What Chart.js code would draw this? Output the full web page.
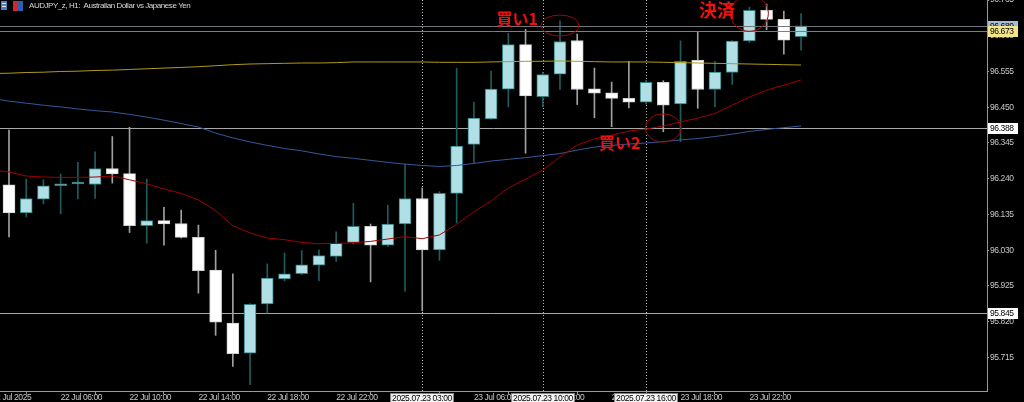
<!DOCTYPE html>
<html>
<head>
<meta charset="utf-8">
<script src="https://cdn.jsdelivr.net/npm/chart.js@4.4.1/dist/chart.umd.min.js"></script>
<style>
  html, body { margin: 0; padding: 0; background: #000; }
  canvas { display: block; }
</style>
</head>
<body>
<canvas id="chart" width="1024" height="402"></canvas>
<script>
// hourly bars, AUDJPY_z H1 (first slot is off-screen, only the MAs reach it)
const times = [
  "22 Jul 02:00", "22 Jul 03:00", "22 Jul 04:00", "22 Jul 05:00", "22 Jul 06:00", "22 Jul 07:00",
  "22 Jul 08:00", "22 Jul 09:00", "22 Jul 10:00", "22 Jul 11:00", "22 Jul 12:00", "22 Jul 13:00",
  "22 Jul 14:00", "22 Jul 15:00", "22 Jul 16:00", "22 Jul 17:00", "22 Jul 18:00", "22 Jul 19:00",
  "22 Jul 20:00", "22 Jul 21:00", "22 Jul 22:00", "22 Jul 23:00", "23 Jul 00:00", "23 Jul 01:00",
  "23 Jul 02:00", "23 Jul 03:00", "23 Jul 04:00", "23 Jul 05:00", "23 Jul 06:00", "23 Jul 07:00",
  "23 Jul 08:00", "23 Jul 09:00", "23 Jul 10:00", "23 Jul 11:00", "23 Jul 12:00", "23 Jul 13:00",
  "23 Jul 14:00", "23 Jul 15:00", "23 Jul 16:00", "23 Jul 17:00", "23 Jul 18:00", "23 Jul 19:00",
  "23 Jul 20:00", "23 Jul 21:00", "23 Jul 22:00", "23 Jul 23:00", "24 Jul 00:00", "24 Jul 01:00"
];

const opens = [null,
  96.222, 96.140, 96.180, 96.220, 96.225, 96.223, 96.270, 96.255, 96.102, 96.117,
  96.108, 96.068, 95.972, 95.816, 95.728, 95.872, 95.946, 95.961, 95.986, 96.012,
  96.053, 96.100, 96.045, 96.107, 96.182, 96.031, 96.197, 96.341, 96.416, 96.503,
  96.634, 96.481, 96.547, 96.646, 96.504, 96.492, 96.476, 96.465, 96.523, 96.460,
  96.588, 96.502, 96.552, 96.645, 96.735, 96.708, 96.657];
const highs = [null,
  96.383, 96.239, 96.237, 96.254, 96.288, 96.319, 96.364, 96.391, 96.239, 96.156,
  96.148, 96.104, 96.030, 95.961, 95.873, 95.990, 96.022, 96.029, 96.031, 96.084,
  96.168, 96.107, 96.162, 96.283, 96.213, 96.202, 96.564, 96.465, 96.556, 96.667,
  96.679, 96.553, 96.704, 96.665, 96.565, 96.524, 96.585, 96.530, 96.528, 96.645,
  96.671, 96.585, 96.646, 96.744, 96.753, 96.732, 96.725];
const lows = [null,
  96.069, 96.128, 96.166, 96.137, 96.181, 96.182, 96.227, 96.082, 96.051, 96.045,
  96.066, 95.904, 95.780, 95.689, 95.635, 95.846, 95.940, 95.958, 95.941, 95.997,
  96.048, 95.937, 96.041, 95.909, 95.852, 96.000, 96.110, 96.287, 96.414, 96.451,
  96.315, 96.451, 96.502, 96.458, 96.419, 96.393, 96.448, 96.459, 96.378, 96.349,
  96.447, 96.451, 96.517, 96.640, 96.678, 96.606, 96.618];
const closes = [null,
  96.140, 96.182, 96.219, 96.225, 96.230, 96.270, 96.254, 96.102, 96.117, 96.107,
  96.068, 95.970, 95.819, 95.726, 95.871, 95.948, 95.961, 95.987, 96.014, 96.051,
  96.100, 96.045, 96.107, 96.182, 96.031, 96.197, 96.336, 96.418, 96.503, 96.634,
  96.483, 96.546, 96.643, 96.502, 96.491, 96.476, 96.465, 96.523, 96.456, 96.585,
  96.502, 96.553, 96.644, 96.735, 96.708, 96.647, 96.689];

// moving averages (red / blue / gold)
const maFast = [96.266,
  96.260, 96.248, 96.245, 96.244, 96.244, 96.245, 96.248, 96.237, 96.225, 96.210,
  96.197, 96.178, 96.146, 96.102, 96.081, 96.066, 96.061, 96.053, 96.049, 96.050,
  96.052, 96.056, 96.063, 96.070, 96.064, 96.075, 96.106, 96.143, 96.175, 96.213,
  96.239, 96.266, 96.304, 96.339, 96.357, 96.368, 96.380, 96.386, 96.395, 96.407,
  96.418, 96.432, 96.456, 96.480, 96.500, 96.515, 96.530];
const maMid = [96.476,
  96.468, 96.462, 96.456, 96.451, 96.445, 96.440, 96.436, 96.429, 96.421, 96.412,
  96.402, 96.392, 96.374, 96.360, 96.348, 96.338, 96.329, 96.322, 96.313, 96.305,
  96.300, 96.294, 96.288, 96.283, 96.279, 96.276, 96.279, 96.285, 96.292, 96.297,
  96.302, 96.308, 96.314, 96.324, 96.333, 96.338, 96.342, 96.345, 96.349, 96.354,
  96.358, 96.364, 96.371, 96.379, 96.385, 96.390, 96.395];
const maSlow = [96.549,
  96.550, 96.552, 96.553, 96.555, 96.556, 96.558, 96.559, 96.561, 96.563, 96.565,
  96.567, 96.569, 96.572, 96.575, 96.577, 96.578, 96.579, 96.580, 96.580, 96.581,
  96.583, 96.583, 96.583, 96.583, 96.583, 96.582, 96.582, 96.582, 96.583, 96.584,
  96.585, 96.585, 96.586, 96.585, 96.584, 96.583, 96.583, 96.583, 96.582, 96.581,
  96.580, 96.579, 96.578, 96.577, 96.576, 96.575, 96.574];

const priceTicks = [95.715, 95.820, 95.925, 96.030, 96.135, 96.240, 96.345, 96.450, 96.555, 96.660, 96.765];
const timeTickAt = ["22 Jul 02:00", "22 Jul 06:00", "22 Jul 10:00", "22 Jul 14:00", "22 Jul 18:00", "22 Jul 22:00",
  "23 Jul 02:00", "23 Jul 06:00", "23 Jul 10:00", "23 Jul 14:00", "23 Jul 18:00", "23 Jul 22:00"];
const timeTickText = ["22 Jul 2025", "22 Jul 06:00", "22 Jul 10:00", "22 Jul 14:00", "22 Jul 18:00", "22 Jul 22:00",
  "23 Jul 02:00", "23 Jul 06:00", "23 Jul 10:00", "23 Jul 14:00", "23 Jul 18:00", "23 Jul 22:00"];

// user objects on the chart
const hLines = [96.388, 95.845];
const markLine = 96.673;
const vLineAt = ["23 Jul 03:00", "23 Jul 10:00", "23 Jul 16:00"];
const vLineText = ["2025.07.23 03:00", "2025.07.23 10:00", "2025.07.23 16:00"];
const noteText = ["買い1", "買い2", "決済"];
const noteAt = ["23 Jul 08:00", "23 Jul 14:00", "23 Jul 20:00"];
const notePrice = [96.710, 96.344, 96.735];
const circleAt = ["23 Jul 11:00", "23 Jul 17:00", "23 Jul 22:00"];
const circlePrice = [96.690, 96.389, 96.726];

const FONT = "'Liberation Sans', Arial, sans-serif";
const BULL = "#b0e0e6", BULL_EDGE = "#2e7f80", BULL_WICK = "#1f5c5c";
const BEAR = "#ffffff", BEAR_EDGE = "#cfcfcf", BEAR_WICK = "#a0a0a0";

const idx = (t) => times.indexOf(t);

const bodies = [], wicks = [];
opens.forEach((o, i) => {
  if (o === null) return;
  const up = closes[i] >= o;
  bodies.push({ x: i, y: [o, closes[i]], up: up });
  wicks.push({ x: i, y: [lows[i], highs[i]], up: up });
});
const series = (arr) => arr.map((v, i) => ({ x: i, y: v }));

const overlay = {
  id: "overlay",
  beforeDraw(chart) {
    const ctx = chart.ctx;
    ctx.save();
    ctx.fillStyle = "#000";
    ctx.fillRect(0, 0, chart.width, chart.height);
    ctx.restore();
    // MT's small tahoma runs narrower than Liberation Sans
    ctx.letterSpacing = "-0.4px";
  },
  beforeDatasetsDraw(chart) {
    const { ctx, chartArea: a, scales: { x, y } } = chart;
    ctx.save();
    ctx.beginPath();
    ctx.rect(a.left, a.top, a.right - a.left, a.bottom - a.top);
    ctx.clip();
    ctx.lineWidth = 1;
    // period markers
    ctx.strokeStyle = "#b8b8b8";
    ctx.setLineDash([1, 2]);
    vLineAt.forEach((t) => {
      const px = Math.round(x.getPixelForValue(idx(t))) + 0.5;
      ctx.beginPath();
      ctx.moveTo(px, a.top);
      ctx.lineTo(px, a.bottom);
      ctx.stroke();
    });
    ctx.setLineDash([]);
    // horizontal levels
    ctx.strokeStyle = "#a8a8a8";
    hLines.forEach((p) => {
      const py = Math.round(y.getPixelForValue(p)) + 0.5;
      ctx.beginPath();
      ctx.moveTo(a.left, py);
      ctx.lineTo(a.right, py);
      ctx.stroke();
    });
    ctx.restore();
  },
  afterDatasetsDraw(chart) {
    const { ctx, chartArea: a, scales: { x, y } } = chart;
    ctx.save();
    ctx.beginPath();
    ctx.rect(a.left, a.top, a.right - a.left, a.bottom - a.top);
    ctx.clip();
    ctx.lineWidth = 1;
    // bid line and marked level
    const bid = closes[closes.length - 1];
    [[bid, "#6f767c"], [markLine, "#8c8052"]].forEach(([p, c]) => {
      const py = Math.round(y.getPixelForValue(p)) + 0.5;
      ctx.strokeStyle = c;
      ctx.beginPath();
      ctx.moveTo(a.left, py);
      ctx.lineTo(a.right, py);
      ctx.stroke();
    });
    // circles
    ctx.strokeStyle = "#9a0a0a";
    const radii = [[19, 10.5], [18, 14], [19, 18]];
    circleAt.forEach((t, k) => {
      ctx.beginPath();
      ctx.ellipse(x.getPixelForValue(idx(t)), y.getPixelForValue(circlePrice[k]), radii[k][0], radii[k][1], 0, 0, Math.PI * 2);
      ctx.stroke();
    });
    // notes
    ctx.letterSpacing = "0px";
    ctx.fillStyle = "#f01010";
    ctx.textAlign = "center";
    ctx.textBaseline = "middle";
    const noteShift = [9, 8, 2];
    const noteSize = [16, 16, 18];
    noteText.forEach((s, k) => {
      ctx.font = "bold " + noteSize[k] + "px 'Noto Sans CJK JP', sans-serif";
      ctx.fillText(s, x.getPixelForValue(idx(noteAt[k])) + noteShift[k], y.getPixelForValue(notePrice[k]));
    });
    ctx.restore();
  },
  afterDraw(chart) {
    const { ctx, chartArea: a, scales: { x, y } } = chart;
    ctx.save();
    ctx.letterSpacing = "-0.4px";
    ctx.font = "8.5px " + FONT;
    ctx.textBaseline = "middle";
    // price tags on the right scale
    const bid = closes[closes.length - 1];
    const tags = [[bid, "#a7bdd4"], [markLine, "#f2e48c"], [hLines[0], "#ffffff"], [hLines[1], "#ffffff"]];
    tags.forEach(([p, bg]) => {
      const py = Math.round(y.getPixelForValue(p));
      ctx.fillStyle = bg;
      ctx.fillRect(a.right + 1, py - 5, 30, 11);
      ctx.fillStyle = "#000";
      ctx.textAlign = "left";
      ctx.fillText(p.toFixed(3), a.right + 3, py + 0.5);
    });
    // time tags under the period markers
    vLineText.forEach((s, k) => {
      const px = Math.round(x.getPixelForValue(idx(vLineAt[k])));
      const w = ctx.measureText(s).width + 4;
      ctx.fillStyle = "#f4f4f4";
      ctx.fillRect(px - w / 2, a.bottom + 2, w, 12);
      ctx.strokeStyle = "#808080";
      ctx.strokeRect(px - w / 2 + 0.5, a.bottom + 2.5, w - 1, 12);
      ctx.fillStyle = "#000";
      ctx.textAlign = "center";
      ctx.fillText(s, px, a.bottom + 7.5);
    });
    // header
    ctx.fillStyle = "#4a7fc0";
    ctx.fillRect(1, 1, 6, 9);
    ctx.fillStyle = "#e6e6e6";
    ctx.fillRect(2, 3, 4, 1);
    ctx.fillRect(2, 6, 4, 1);
    ctx.fillStyle = "#d02828";
    ctx.fillRect(13, 1, 5, 10);
    ctx.fillStyle = "#2a5fb0";
    ctx.fillRect(18, 1, 5, 10);
    ctx.fillStyle = "#d8d8d8";
    ctx.textAlign = "left";
    ctx.font = "8px " + FONT;
    ctx.letterSpacing = "-0.45px";
    ctx.fillText("AUDJPY_z, H1:  Australian Dollar vs Japanese Yen", 29, 6);
    ctx.restore();
    ctx.letterSpacing = "0px";
  }
};

new Chart(document.getElementById("chart"), {
  data: {
    datasets: [
      { type: "line", data: series(maFast), borderColor: "#a00000", borderWidth: 1, pointRadius: 0, order: 0 },
      { type: "line", data: series(maMid), borderColor: "#36599c", borderWidth: 1, pointRadius: 0, order: 0 },
      { type: "line", data: series(maSlow), borderColor: "#b09a18", borderWidth: 1, pointRadius: 0, order: 0 },
      {
        type: "bar", data: bodies, grouped: false, barThickness: 12, borderWidth: 1, borderSkipped: false,
        backgroundColor: (c) => (c.raw && c.raw.up ? BULL : BEAR),
        borderColor: (c) => (c.raw && c.raw.up ? BULL_EDGE : BEAR_EDGE),
        order: 1
      },
      {
        type: "bar", data: wicks, grouped: false, barThickness: 1, borderWidth: 0,
        backgroundColor: (c) => (c.raw && c.raw.up ? BULL_WICK : BEAR_WICK),
        order: 2
      }
    ]
  },
  options: {
    responsive: false,
    animation: false,
    layout: { padding: 0 },
    plugins: { legend: { display: false }, tooltip: { enabled: false } },
    scales: {
      x: {
        type: "linear", position: "bottom", min: 0.477, max: 57.8, offset: false,
        grid: { drawOnChartArea: false, drawTicks: true, tickLength: 3, color: "#9a9a9a" },
        border: { display: true, color: "#9a9a9a" },
        ticks: {
          autoSkip: false, maxRotation: 0, align: "start", padding: -1, color: "#c8c8c8",
          font: { family: FONT, size: 8.5, lineHeight: 1 },
          callback: (v) => timeTickText[timeTickAt.findIndex((t) => idx(t) === v)]
        },
        afterBuildTicks: (s) => { s.ticks = timeTickAt.map((t) => ({ value: idx(t) })); },
        afterFit: (s) => { s.height = 11; s.paddingLeft = 0; s.paddingRight = 0; }
      },
      y: {
        type: "linear", position: "right", min: 95.6166, max: 96.765,
        grid: { drawOnChartArea: false, drawTicks: true, tickLength: 2, color: "#9a9a9a" },
        border: { display: true, color: "#9a9a9a" },
        ticks: {
          padding: 1, color: "#c8c8c8",
          font: { family: FONT, size: 8.5, lineHeight: 1 },
          callback: (v) => v.toFixed(3)
        },
        afterBuildTicks: (s) => { s.ticks = priceTicks.map((v) => ({ value: v })); },
        afterFit: (s) => { s.width = 37; s.paddingTop = 0; s.paddingBottom = 0; }
      }
    }
  },
  plugins: [overlay]
});
</script>
</body>
</html>
